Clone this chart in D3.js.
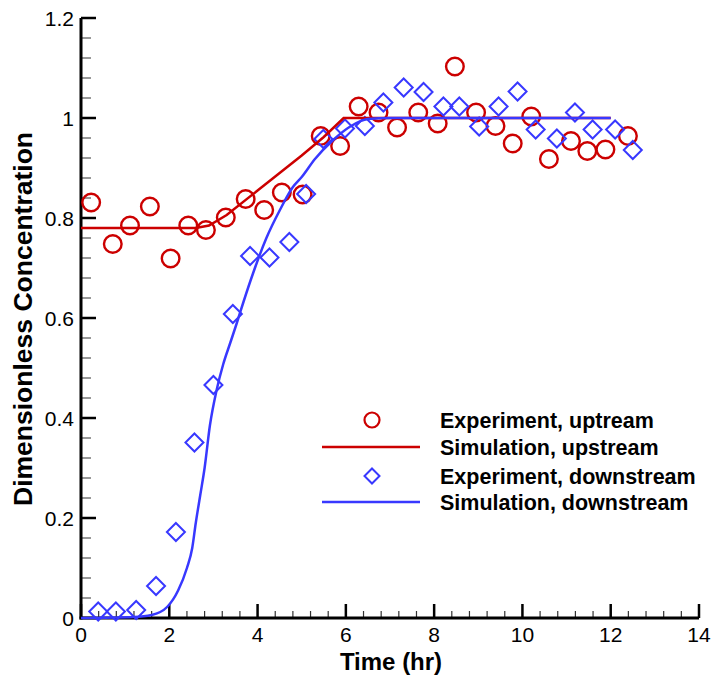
<!DOCTYPE html>
<html>
<head>
<meta charset="utf-8">
<script src="https://cdn.jsdelivr.net/npm/d3@7"></script>
<style>
  body { margin: 0; background: #fff; }
  text { font-family: Arial, "Liberation Sans", sans-serif; }
</style>
</head>
<body>
<svg width="713" height="677"></svg>
<script>
// experiment, upstream (time hr, concentration)
const upTime = [0.23, 0.72, 1.11, 1.56, 2.03, 2.43, 2.83, 3.28, 3.73, 4.15, 4.55, 5.02, 5.43, 5.87, 6.29, 6.74, 7.16, 7.64, 8.08, 8.47, 8.95, 9.39, 9.78, 10.2, 10.6, 11.1, 11.47, 11.88, 12.39];
const upConc = [0.831, 0.748, 0.785, 0.823, 0.719, 0.785, 0.776, 0.801, 0.838, 0.816, 0.851, 0.847, 0.964, 0.944, 1.023, 1.011, 0.981, 1.011, 0.989, 1.103, 1.011, 0.984, 0.949, 1.003, 0.918, 0.954, 0.934, 0.937, 0.964];

// experiment, downstream
const downTime = [0.39, 0.79, 1.25, 1.7, 2.15, 2.57, 3.0, 3.44, 3.83, 4.27, 4.72, 5.1, 5.49, 5.98, 6.43, 6.85, 7.31, 7.76, 8.21, 8.57, 9.02, 9.46, 9.89, 10.3, 10.78, 11.19, 11.59, 12.1, 12.5];
const downConc = [0.013, 0.013, 0.016, 0.064, 0.172, 0.351, 0.466, 0.608, 0.724, 0.721, 0.752, 0.848, 0.958, 0.979, 0.984, 1.031, 1.061, 1.052, 1.023, 1.023, 0.983, 1.023, 1.053, 0.977, 0.959, 1.011, 0.977, 0.977, 0.936];

// simulation, upstream
const simUpTime = [0, 2.6, 2.9, 3.3, 4.0, 5.0, 5.5, 5.95, 12];
const simUpConc = [0.78, 0.78, 0.785, 0.806, 0.855, 0.925, 0.962, 1.0, 1.0];

// simulation, downstream
const simDownTime = [0, 1.2, 1.6, 1.95, 2.2, 2.4, 2.52, 2.6, 2.7, 2.8, 2.92, 3.07, 3.22, 3.38, 3.53, 3.68, 3.9, 4.2, 4.5, 4.8, 5.0, 5.3, 5.7, 6.1, 6.5, 7.0, 12];
const simDownConc = [0, 0.002, 0.006, 0.022, 0.055, 0.1, 0.14, 0.19, 0.245, 0.3, 0.385, 0.455, 0.507, 0.55, 0.59, 0.632, 0.69, 0.76, 0.815, 0.862, 0.882, 0.918, 0.955, 0.983, 0.998, 1.0, 1.0];

const xTicks = [0, 2, 4, 6, 8, 10, 12, 14];
const yTicks = [0, 0.2, 0.4, 0.6, 0.8, 1, 1.2];

const legendLabels = ["Experiment, uptream", "Simulation, upstream", "Experiment, downstream", "Simulation, downstream"];

const red = "#cc0000", blue = "#3838ff";

const svg = d3.select("svg");
const x = d3.scaleLinear().domain([0, 14]).range([81, 699]);
const y = d3.scaleLinear().domain([0, 1.2]).range([618, 18]);

// minor ticks
const xMinor = d3.range(0, 14.001, 0.4).filter(v => !xTicks.some(t => Math.abs(t - v) < 1e-6));
const yMinor = d3.range(0, 1.2001, 0.04).filter(v => !yTicks.some(t => Math.abs(t - v) < 1e-6));

svg.append("g").selectAll("line").data(xMinor).join("line")
  .attr("x1", d => x(d)).attr("x2", d => x(d))
  .attr("y1", 618).attr("y2", 611)
  .attr("stroke", "#333").attr("stroke-width", 1.2);
svg.append("g").selectAll("line").data(yMinor).join("line")
  .attr("y1", d => y(d)).attr("y2", d => y(d))
  .attr("x1", 81).attr("x2", 91)
  .attr("stroke", "#555").attr("stroke-width", 1.2);

// major ticks
svg.append("g").selectAll("line").data(xTicks).join("line")
  .attr("x1", d => x(d)).attr("x2", d => x(d))
  .attr("y1", 618).attr("y2", 604)
  .attr("stroke", "#000").attr("stroke-width", 2.5);
svg.append("g").selectAll("line").data(yTicks).join("line")
  .attr("y1", d => y(d)).attr("y2", d => y(d))
  .attr("x1", 81).attr("x2", 96)
  .attr("stroke", "#000").attr("stroke-width", 2.5);

// axis lines
svg.append("line").attr("x1", 81).attr("x2", 81).attr("y1", 18).attr("y2", 619.5)
  .attr("stroke", "#000").attr("stroke-width", 3);
svg.append("line").attr("x1", 79.5).attr("x2", 699).attr("y1", 618).attr("y2", 618)
  .attr("stroke", "#000").attr("stroke-width", 3);

// tick labels
svg.append("g").selectAll("text").data(xTicks).join("text")
  .attr("x", d => x(d)).attr("y", 642)
  .attr("text-anchor", "middle").attr("font-size", 21)
  .text(d => d);
svg.append("g").selectAll("text").data(yTicks).join("text")
  .attr("x", 74).attr("y", d => y(d) + 8)
  .attr("text-anchor", "end").attr("font-size", 21)
  .text(d => d);

// axis titles
svg.append("text").attr("x", 391).attr("y", 670)
  .attr("text-anchor", "middle").attr("font-size", 24).attr("font-weight", "bold")
  .text("Time (hr)");
svg.append("text").attr("transform", "translate(32,319) rotate(-90)")
  .attr("text-anchor", "middle").attr("font-size", 26.5).attr("font-weight", "bold")
  .text("Dimensionless Concentration");

const line = d3.line().x(d => x(d[0])).y(d => y(d[1]));

const diamond = (cx, cy, r) => `M${cx},${cy - r}L${cx + r},${cy}L${cx},${cy + r}L${cx - r},${cy}Z`;

// upstream experiment circles
svg.append("g").selectAll("circle").data(d3.zip(upTime, upConc)).join("circle")
  .attr("cx", d => x(d[0])).attr("cy", d => y(d[1])).attr("r", 8.8)
  .attr("fill", "none").attr("stroke", red).attr("stroke-width", 2.4);

// downstream experiment diamonds
svg.append("g").selectAll("path").data(d3.zip(downTime, downConc)).join("path")
  .attr("d", d => diamond(x(d[0]), y(d[1]), 9))
  .attr("fill", "none").attr("stroke", blue).attr("stroke-width", 2);

// simulation lines
svg.append("path").datum(d3.zip(simUpTime, simUpConc))
  .attr("d", line).attr("fill", "none").attr("stroke", red).attr("stroke-width", 2.5);
svg.append("path").datum(d3.zip(simDownTime, simDownConc))
  .attr("d", line.curve(d3.curveMonotoneX)).attr("fill", "none").attr("stroke", blue).attr("stroke-width", 2.5);

// legend
const lg = svg.append("g");
const rows = [420, 447, 476, 502];
lg.selectAll("text").data(legendLabels).join("text")
  .attr("x", 440).attr("y", (d, i) => rows[i] + 7.5)
  .attr("font-size", 21.5).attr("font-weight", "bold")
  .text(d => d);
lg.append("circle").attr("cx", 372).attr("cy", rows[0]).attr("r", 7.5)
  .attr("fill", "none").attr("stroke", red).attr("stroke-width", 2.2);
lg.append("line").attr("x1", 322).attr("x2", 420).attr("y1", rows[1]).attr("y2", rows[1])
  .attr("stroke", red).attr("stroke-width", 2.5);
lg.append("path").attr("d", diamond(372, rows[2], 7.5))
  .attr("fill", "none").attr("stroke", blue).attr("stroke-width", 2);
lg.append("line").attr("x1", 322).attr("x2", 420).attr("y1", rows[3]).attr("y2", rows[3])
  .attr("stroke", blue).attr("stroke-width", 2.5);
</script>
</body>
</html>
